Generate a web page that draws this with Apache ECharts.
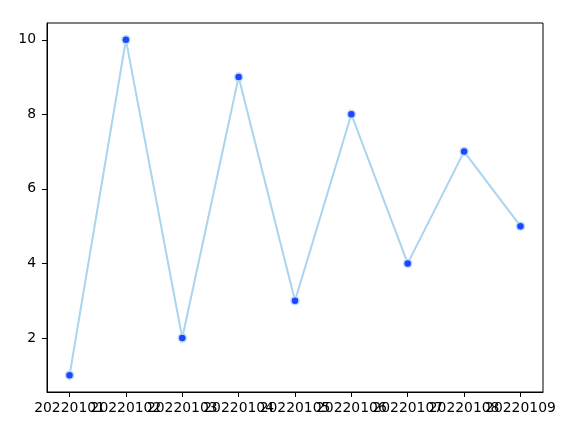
<!DOCTYPE html>
<html>
<head>
<meta charset="utf-8">
<script src="https://cdn.jsdelivr.net/npm/echarts@6/dist/echarts.min.js"></script>
<style>html,body{margin:0;padding:0;background:#fff;}#c{width:572px;height:430px;}</style>
</head>
<body>
<div id="c"></div>
<script>
const categories = ['20220101','20220102','20220103','20220104','20220105','20220106','20220107','20220108','20220109'];
const values = [1, 10, 2, 9, 3, 8, 4, 7, 5];
const yTicks = [2, 4, 6, 8, 10];

const chart = echarts.init(document.getElementById('c'), null, {renderer: 'canvas'});
const idx = categories.map((_, i) => i);
const xMin = -0.4, xMax = 8.4;
const labelVals = [xMin].concat(idx, [xMax]);
const font = {fontFamily: 'DejaVu Sans', fontSize: 13.9, color: '#000'};
chart.setOption({
  animation: false,
  backgroundColor: '#fff',
  grid: {left: 47, right: 29, top: 23, bottom: 38, show: true, borderColor: '#000', borderWidth: 1, backgroundColor: 'transparent'},
  xAxis: {
    type: 'value', min: xMin, max: xMax,
    splitLine: {show: false},
    axisLine: {show: true, onZero: false, lineStyle: {color: '#000', width: 1}},
    axisTick: {show: true, customValues: idx, length: 5, inside: false, lineStyle: {color: '#000', width: 1}},
    axisLabel: Object.assign({customValues: labelVals, margin: 9, hideOverlap: false, showMinLabel: false, showMaxLabel: false,
      formatter: v => (Number.isInteger(v) ? categories[v] : '')}, font)
  },
  yAxis: {
    type: 'value', min: 0.55, max: 10.45,
    splitLine: {show: false},
    axisLine: {show: true, onZero: false, lineStyle: {color: '#000', width: 1}},
    axisTick: {show: true, customValues: yTicks, length: 5, lineStyle: {color: '#000', width: 1}},
    axisLabel: Object.assign({customValues: yTicks, margin: 11, hideOverlap: false}, font)
  },
  series: [{
    type: 'line',
    data: values.map((v, i) => [i, v]),
    lineStyle: {color: '#a9d5ef', width: 2},
    symbol: 'circle', symbolSize: 8,
    itemStyle: {color: '#1f45ff', borderColor: '#b8dcf3', borderWidth: 1.5},
    z: 3
  }]
});
</script>
</body>
</html>
